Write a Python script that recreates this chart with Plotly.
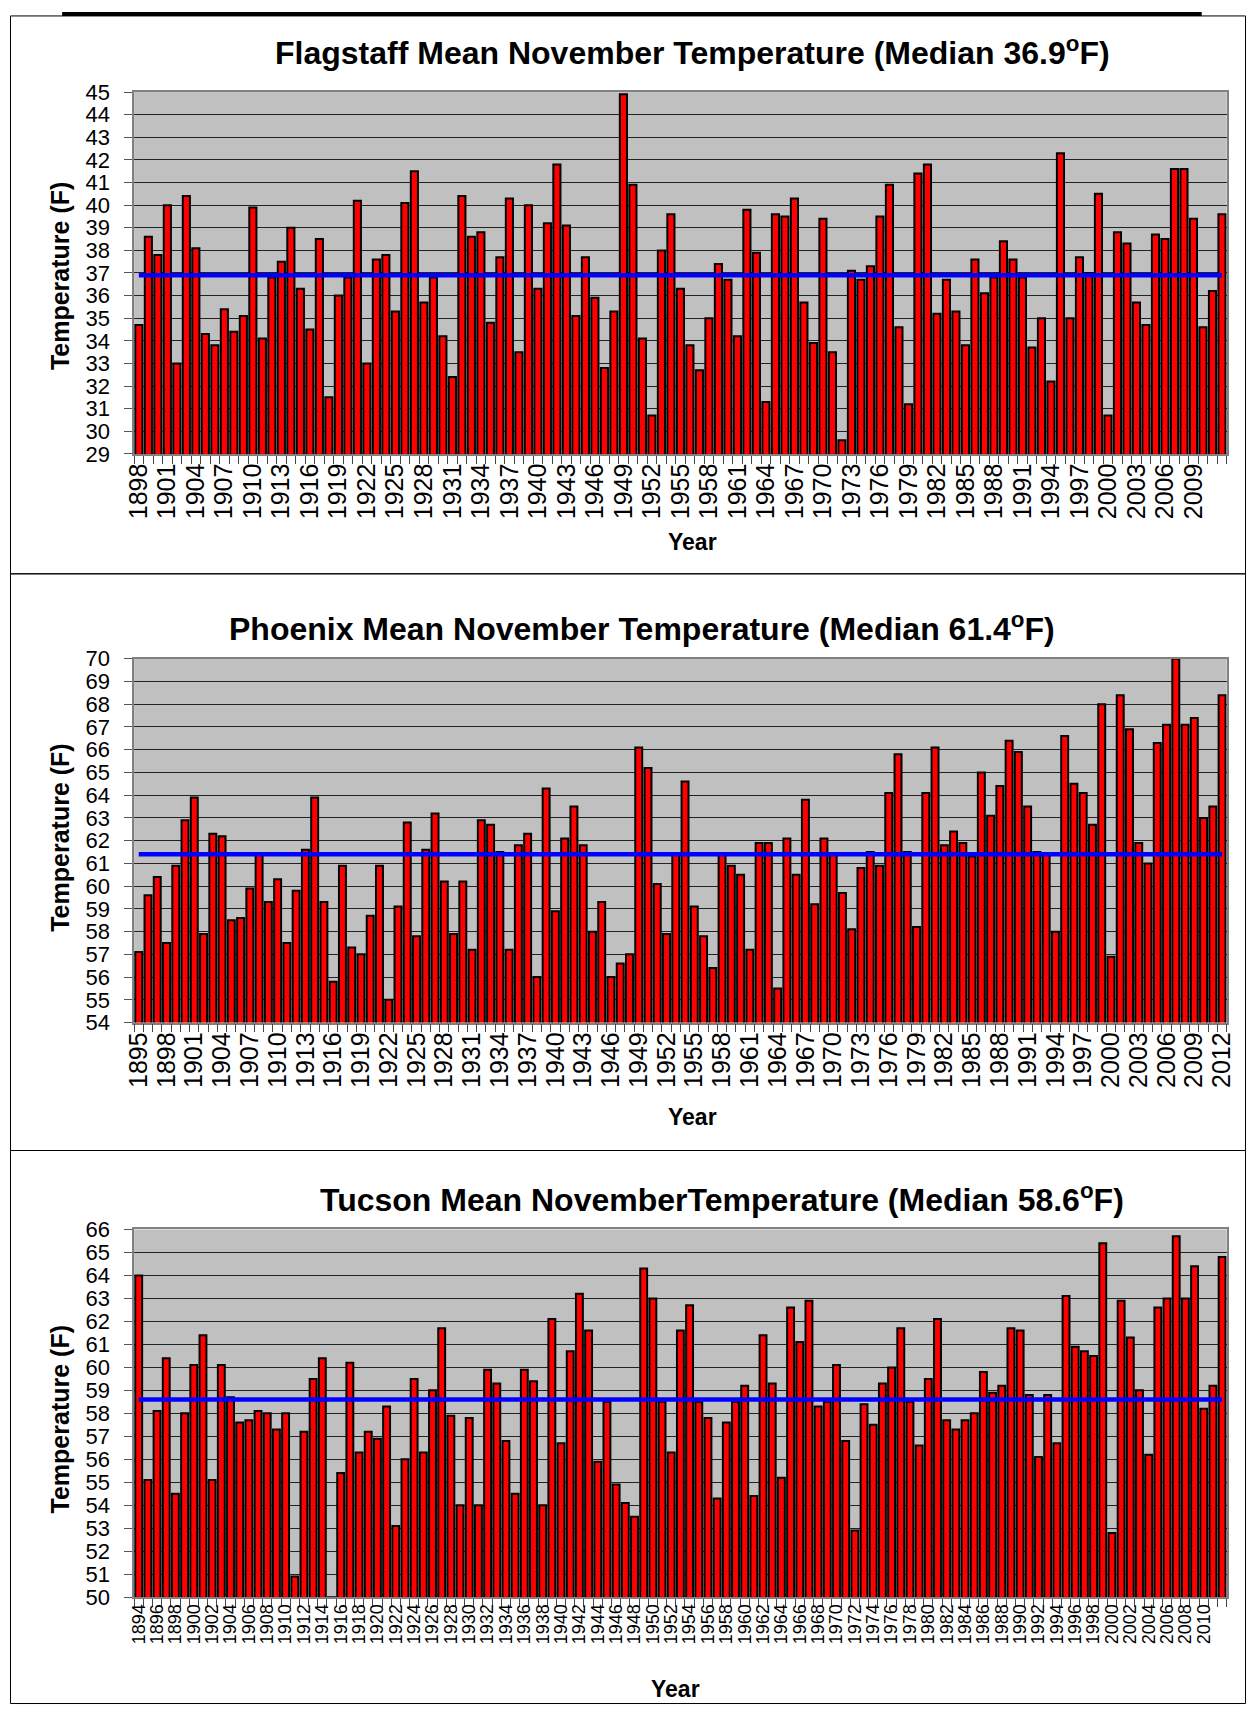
import plotly.graph_objects as go
from plotly.subplots import make_subplots

W, H = 1255, 1718
# the photographed page comes out shrunk by about 1.4% with a ~10px border,
# so target positions (pixels in the original picture) are mapped back here
SHRINK = 0.986
BORDER = 10
FONT = "Liberation Sans, Arial, sans-serif"

# Flagstaff, November means 1898-2012
flag_years = list(range(1898, 2013))
flag_temps = [
    34.7, 38.6, 37.8, 40.0, 33.0, 40.4, 38.1, 34.3, 33.8, 35.4,   # 1898-1907
    34.4, 35.1, 39.9, 34.1, 36.8, 37.5, 39.0, 36.3, 34.5, 38.5,   # 1908-1917
    31.5, 36.0, 36.8, 40.2, 33.0, 37.6, 37.8, 35.3, 40.1, 41.5,   # 1918-1927
    35.7, 36.8, 34.2, 32.4, 40.4, 38.6, 38.8, 34.8, 37.7, 40.3,   # 1928-1937
    33.5, 40.0, 36.3, 39.2, 41.8, 39.1, 35.1, 37.7, 35.9, 32.8,   # 1938-1947
    35.3, 44.9, 40.9, 34.1, 30.7, 38.0, 39.6, 36.3, 33.8, 32.7,   # 1948-1957
    35.0, 37.4, 36.7, 34.2, 39.8, 37.9, 31.3, 39.6, 39.5, 40.3,   # 1958-1967
    35.7, 33.9, 39.4, 33.5, 29.6, 37.1, 36.7, 37.3, 39.5, 40.9,   # 1968-1977
    34.6, 31.2, 41.4, 41.8, 35.2, 36.7, 35.3, 33.8, 37.6, 36.1,   # 1978-1987
    36.8, 38.4, 37.6, 36.8, 33.7, 35.0, 32.2, 42.3, 35.0, 37.7,   # 1988-1997
    37.0, 40.5, 30.7, 38.8, 38.3, 35.7, 34.7, 38.7, 38.5, 41.6,   # 1998-2007
    41.6, 39.4, 34.6, 36.2, 39.6,                                 # 2008-2012
]
flag_median = 36.9
flag_ticks = list(range(1898, 2010, 3))

# Phoenix, November means 1895-2012
phx_years = list(range(1895, 2013))
phx_temps = [
    57.1, 59.6, 60.4, 57.5, 60.9, 62.9, 63.9, 57.9, 62.3, 62.2,   # 1895-1904
    58.5, 58.6, 59.9, 61.4, 59.3, 60.3, 57.5, 59.8, 61.6, 63.9,   # 1905-1914
    59.3, 55.8, 60.9, 57.3, 57.0, 58.7, 60.9, 55.0, 59.1, 62.8,   # 1915-1924
    57.8, 61.6, 63.2, 60.2, 57.9, 60.2, 57.2, 62.9, 62.7, 61.5,   # 1925-1934
    57.2, 61.8, 62.3, 56.0, 64.3, 58.9, 62.1, 63.5, 61.8, 58.0,   # 1935-1944
    59.3, 56.0, 56.6, 57.0, 66.1, 65.2, 60.1, 57.9, 61.4, 64.6,   # 1945-1954
    59.1, 57.8, 56.4, 61.4, 60.9, 60.5, 57.2, 61.9, 61.9, 55.5,   # 1955-1964
    62.1, 60.5, 63.8, 59.2, 62.1, 61.4, 59.7, 58.1, 60.8, 61.5,   # 1965-1974
    60.9, 64.1, 65.8, 61.5, 58.2, 64.1, 66.1, 61.8, 62.4, 61.9,   # 1975-1984
    61.3, 65.0, 63.1, 64.4, 66.4, 65.9, 63.5, 61.5, 61.4, 58.0,   # 1985-1994
    66.6, 64.5, 64.1, 62.7, 68.0, 56.9, 68.4, 66.9, 61.9, 61.0,   # 1995-2004
    66.3, 67.1, 70.0, 67.1, 67.4, 63.0, 63.5, 68.4,               # 2005-2012
]
phx_median = 61.4
phx_ticks = list(range(1895, 2013, 3))

# Tucson, November means 1894-2012
tus_years = list(range(1894, 2013))
tus_temps = [
    64.0, 55.1, 58.1, 60.4, 54.5, 58.0, 60.1, 61.4, 55.1, 60.1,   # 1894-1903
    58.7, 57.6, 57.7, 58.1, 58.0, 57.3, 58.0, 50.9, 57.2, 59.5,   # 1904-1913
    60.4, 50.0, 55.4, 60.2, 56.3, 57.2, 56.9, 58.3, 53.1, 56.0,   # 1914-1923
    59.5, 56.3, 59.0, 61.7, 57.9, 54.0, 57.8, 54.0, 59.9, 59.3,   # 1924-1933
    56.8, 54.5, 59.9, 59.4, 54.0, 62.1, 56.7, 60.7, 63.2, 61.6,   # 1934-1943
    55.9, 58.5, 54.9, 54.1, 53.5, 64.3, 63.0, 58.5, 56.3, 61.6,   # 1944-1953
    62.7, 58.5, 57.8, 54.3, 57.6, 58.5, 59.2, 54.4, 61.4, 59.3,   # 1954-1963
    55.2, 62.6, 61.1, 62.9, 58.3, 58.5, 60.1, 56.8, 52.9, 58.4,   # 1964-1973
    57.5, 59.3, 60.0, 61.7, 58.5, 56.6, 59.5, 62.1, 57.7, 57.3,   # 1974-1983
    57.7, 58.0, 59.8, 58.9, 59.2, 61.7, 61.6, 58.8, 56.1, 58.8,   # 1984-1993
    56.7, 63.1, 60.9, 60.7, 60.5, 65.4, 52.8, 62.9, 61.3, 59.0,   # 1994-2003
    56.2, 62.6, 63.0, 65.7, 63.0, 64.4, 58.2, 59.2, 64.8,         # 2004-2012
]
tus_median = 58.6
tus_ticks = list(range(1894, 2011, 2))


def page(t):
    return t / SHRINK - BORDER


def px_x(x):
    # target pixel -> paper fraction (clamped to the figure)
    return min(max(page(x) / W, 0.0), 1.0)


def px_y(y):
    return min(max(1 - page(y) / H, 0.0), 1.0)


panels = [
    dict(years=flag_years, temps=flag_temps, median=flag_median, ticks=flag_ticks,
         yrange=[29, 45], top=90, bottom=452, xfont=25,
         title="Flagstaff Mean November Temperature (Median 36.9<sup>o</sup>F)",
         title_xy=(693, 49), ytitle_y=274, year_xy=(693, 540)),
    dict(years=phx_years, temps=phx_temps, median=phx_median, ticks=phx_ticks,
         yrange=[54, 70], top=657, bottom=1021, xfont=25,
         title="Phoenix Mean November Temperature (Median 61.4<sup>o</sup>F)",
         title_xy=(642, 625), ytitle_y=836, year_xy=(693, 1115)),
    dict(years=tus_years, temps=tus_temps, median=tus_median, ticks=tus_ticks,
         yrange=[50, 66], top=1228, bottom=1596, xfont=18,
         title="Tucson Mean NovemberTemperature (Median 58.6<sup>o</sup>F)",
         title_xy=(722, 1197), ytitle_y=1418, year_xy=(676, 1688)),
]

fig = make_subplots(rows=3, cols=1)
annotations = []

for i, p in enumerate(panels, start=1):
    fig.add_trace(go.Bar(
        x=p['years'], y=p['temps'],
        marker=dict(color='#FF0000', line=dict(color='#000000', width=2)),
        showlegend=False,
    ), row=i, col=1)
    fig.add_trace(go.Scatter(
        x=p['years'], y=[p['median']] * len(p['years']),
        mode='lines', line=dict(color='#0000FF', width=4.5),
        showlegend=False,
    ), row=i, col=1)

    years = p['years']
    edges = [y - 0.5 for y in years] + [years[-1] + 0.5]
    fig.update_xaxes(
        domain=[px_x(134), px_x(1227)],
        range=[years[0] - 0.5, years[-1] + 0.5],
        tickmode='array', tickvals=p['ticks'], ticktext=[str(t) for t in p['ticks']],
        tickangle=-90, ticks='', ticklabelstandoff=-2,
        tickfont=dict(family=FONT, size=p['xfont'], color='black'),
        minor=dict(tickmode='array', tickvals=edges, ticks='outside',
                   ticklen=8, tickcolor='#444444', tickwidth=1),
        showgrid=False, showline=True, linecolor='#808080', linewidth=1.5, mirror=True,
        row=i, col=1)
    fig.update_yaxes(
        domain=[px_y(p['bottom']), px_y(p['top'])],
        range=p['yrange'], dtick=1, tick0=0,
        ticks='outside', ticklen=8, tickcolor='#555555',
        ticklabelstandoff=10,
        tickfont=dict(family=FONT, size=22, color='black'),
        showgrid=True, gridcolor='#222222', gridwidth=1, zeroline=False,
        showline=True, linecolor='#808080', linewidth=1.5, mirror=True,
        row=i, col=1)

    tx, ty = p['title_xy']
    annotations.append(dict(
        text="<b>" + p['title'] + "</b>", x=px_x(tx), y=px_y(ty),
        xref='paper', yref='paper', xanchor='center', yanchor='middle',
        showarrow=False, font=dict(family=FONT, size=32, color='black')))
    annotations.append(dict(
        text="<b>Temperature (F)</b>", x=px_x(60), y=px_y(p['ytitle_y']),
        xref='paper', yref='paper', xanchor='center', yanchor='middle',
        textangle=-90, showarrow=False, font=dict(family=FONT, size=25, color='black')))
    yx, yy = p['year_xy']
    annotations.append(dict(
        text="<b>Year</b>", x=px_x(yx), y=px_y(yy),
        xref='paper', yref='paper', xanchor='center', yanchor='middle',
        showarrow=False, font=dict(family=FONT, size=23, color='black')))

shapes = [
    # black strip along the top edge
    dict(type='rect', xref='paper', yref='paper', x0=px_x(62), x1=px_x(1202),
         y0=1 - 4 / H, y1=1, fillcolor='black', line=dict(width=0)),
]
# thin frames round each chart
for y0, y1 in [(0, 572), (572, 1149), (1149, 1718)]:
    shapes.append(dict(type='rect', xref='paper', yref='paper',
                       x0=0.5 / W, x1=1 - 1.5 / W,
                       y0=max(px_y(y1), 1.5 / H), y1=min(px_y(y0), 1 - 4 / H),
                       line=dict(color='black', width=1)))

fig.update_layout(
    width=W, height=H,
    margin=dict(l=0, r=0, t=0, b=0),
    paper_bgcolor='white',
    plot_bgcolor='#C0C0C0',
    bargap=0.25,
    annotations=annotations,
    shapes=shapes,
    font=dict(family=FONT, color='black'),
)

fig.write_html("out.html", config={'displayModeBar': False},
               post_script="document.body.style.margin='0';")
